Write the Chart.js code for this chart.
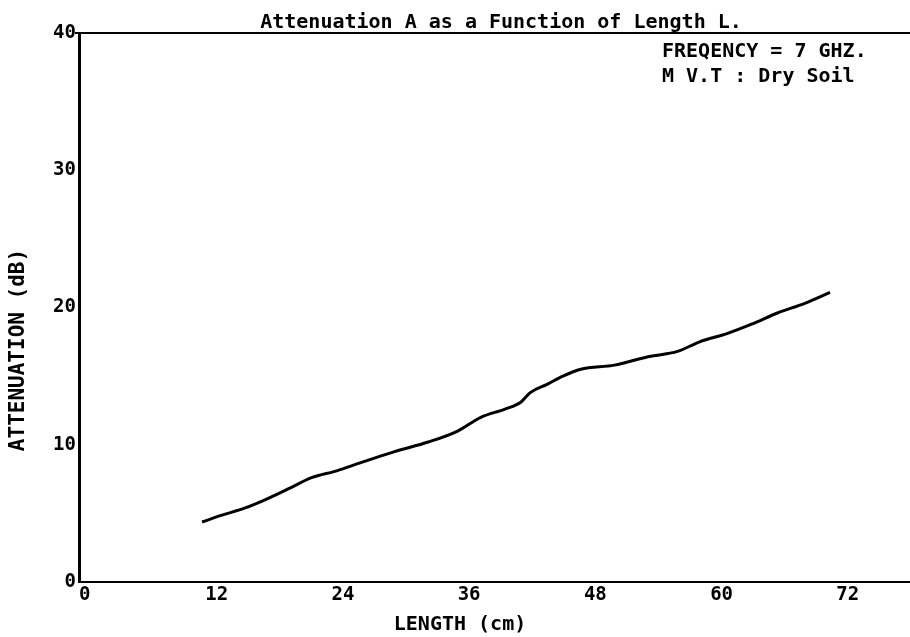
<!DOCTYPE html>
<html>
<head>
<meta charset="utf-8">
<script src="https://cdn.jsdelivr.net/npm/chart.js@4/dist/chart.umd.min.js"></script>
<style>
  html, body { margin: 0; padding: 0; background: #fff; }
  #wrap { width: 910px; height: 637px; position: relative; }
</style>
</head>
<body>
<div id="wrap"><canvas id="c"></canvas></div>
<script>
// ---- data ----
const lengthCm = [11.7, 13.5, 15.8, 18.0, 20.2, 22.1, 24.5, 26.8, 30.0, 33.2, 36.0, 38.2, 40.5, 42.0, 42.9, 44.5, 46.0, 47.7, 50.9, 54.0, 56.9, 59.0, 61.6, 64.0, 66.4, 69.0, 71.4];
const attenuationDb = [4.37, 4.85, 5.4, 6.1, 6.9, 7.6, 8.1, 8.7, 9.5, 10.2, 11.0, 12.0, 12.6, 13.1, 13.8, 14.4, 15.0, 15.5, 15.8, 16.4, 16.8, 17.5, 18.1, 18.8, 19.6, 20.3, 21.1];
const xTicks = [0, 12, 24, 36, 48, 60, 72];
const yTicks = [0, 10, 20, 30, 40];
const titleText = 'Attenuation A as a Function of Length L.';
const noteLines = ['FREQENCY = 7 GHZ.', 'M V.T : Dry Soil'];
const xTitle = 'LENGTH (cm)';
const yTitle = 'ATTENUATION (dB)';

const MONO = '"DejaVu Sans Mono", monospace';

const textPlugin = {
  id: 'plotterText',
  afterDraw(chart) {
    const ctx = chart.ctx;
    const a = chart.chartArea;
    ctx.save();
    // top frame line
    ctx.strokeStyle = '#000';
    ctx.lineWidth = 2;
    ctx.beginPath();
    ctx.moveTo(a.left - 4, a.top);
    ctx.lineTo(a.right, a.top);
    ctx.stroke();

    ctx.fillStyle = '#000';
    ctx.textBaseline = 'alphabetic';
    // title
    ctx.font = 'bold 20px ' + MONO;
    ctx.textAlign = 'center';
    ctx.fillText(titleText, 501, 28);
    // notes
    ctx.textAlign = 'left';
    ctx.font = 'bold 20px ' + MONO;
    ctx.fillText(noteLines[0], 662, 57);
    ctx.fillText(noteLines[1], 662, 82);
    // x title
    ctx.textAlign = 'center';
    ctx.font = 'bold 20px ' + MONO;
    ctx.fillText(xTitle, 460, 630);
    // y title
    ctx.translate(19, 350);
    ctx.rotate(-Math.PI / 2);
    ctx.textBaseline = 'middle';
    ctx.font = 'bold 21px ' + MONO;
    ctx.fillText(yTitle, 0, 0);
    ctx.restore();
  }
};

new Chart(document.getElementById('c'), {
  type: 'line',
  data: {
    datasets: [{
      data: lengthCm.map((x, i) => ({ x: x, y: attenuationDb[i] })),
      borderColor: '#000',
      borderWidth: 3,
      pointRadius: 0,
      cubicInterpolationMode: 'monotone',
      fill: false
    }]
  },
  options: {
    responsive: true,
    maintainAspectRatio: false,
    animation: false,
    layout: { padding: { top: 33, right: 0, bottom: 0, left: 0 } },
    plugins: { legend: { display: false }, tooltip: { enabled: false }, title: { display: false } },
    scales: {
      x: {
        type: 'linear',
        min: 0,
        max: 79,
        afterBuildTicks(scale) { scale.ticks = xTicks.map(v => ({ value: v })); },
        afterFit(scale) { scale.height = 55; },
        grid: { display: false, drawTicks: false },
        border: { display: true, color: '#000', width: 2 },
        ticks: {
          color: '#000',
          align: 'start',
          padding: 2,
          maxRotation: 0,
          autoSkip: false,
          font: { family: MONO, size: 19, weight: 'bold' }
        }
      },
      y: {
        min: 0,
        max: 40,
        afterBuildTicks(scale) { scale.ticks = yTicks.map(v => ({ value: v })); },
        afterFit(scale) { scale.width = 79; },
        grid: { display: false, drawTicks: false },
        border: { display: true, color: '#000', width: 3 },
        ticks: {
          color: '#000',
          padding: 3,
          autoSkip: false,
          font: { family: MONO, size: 19, weight: 'bold' }
        }
      }
    }
  },
  plugins: [textPlugin]
});
</script>
</body>
</html>
